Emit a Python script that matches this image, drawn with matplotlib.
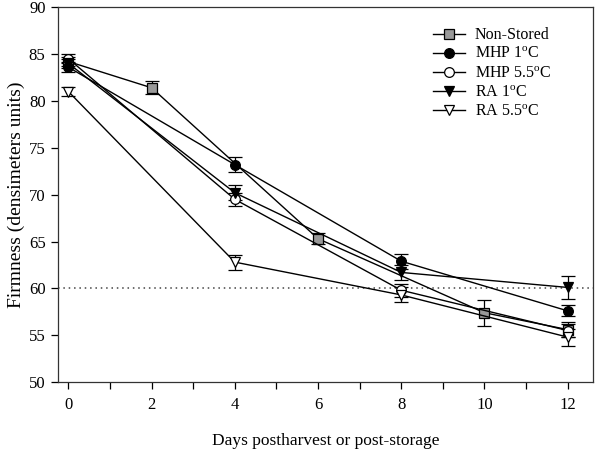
import numpy as np
import matplotlib
matplotlib.use("Agg")
import matplotlib.pyplot as plt
from matplotlib.ticker import MultipleLocator

plt.rcParams['font.family'] = ['Liberation Serif', 'DejaVu Serif']
plt.rcParams['mathtext.fontset'] = 'custom'
plt.rcParams['mathtext.rm'] = 'Liberation Serif'

# datos
dias_ns = [0, 2, 6, 10, 12]
non_stored = [84.2, 81.4, 65.3, 57.4, 55.6]
non_stored_err = [0.5, 0.7, 0.6, 1.4, 0.8]

dias = [0, 4, 8, 12]
mhp_1 = [83.6, 73.2, 62.9, 57.6]
mhp_1_err = [0.5, 0.8, 0.8, 0.6]
mhp_55 = [84.5, 69.5, 59.8, 55.5]
mhp_55_err = [0.5, 0.7, 0.7, 0.7]
ra_1 = [84.0, 70.2, 61.7, 60.1]
ra_1_err = [0.5, 0.8, 0.8, 1.2]
ra_55 = [81.0, 62.8, 59.3, 54.8]
ra_55_err = [0.5, 0.8, 0.8, 0.9]

umbral = 60

series = [
    (dias_ns, non_stored, non_stored_err, "s", "#999999", "Non-Stored"),
    (dias, mhp_1, mhp_1_err, "o", "black", r"MHP 1$^{\mathrm{o}}$C"),
    (dias, mhp_55, mhp_55_err, "o", "white", r"MHP 5.5$^{\mathrm{o}}$C"),
    (dias, ra_1, ra_1_err, "v", "black", r"RA 1$^{\mathrm{o}}$C"),
    (dias, ra_55, ra_55_err, "v", "white", r"RA 5.5$^{\mathrm{o}}$C"),
]

fig = plt.figure(figsize=(5.98, 4.49), dpi=100)
ax = fig.add_axes([0.097, 0.149, 0.894, 0.835])

ax.axhline(umbral, color="#444444", linestyle=(0, (1, 2.5)), linewidth=1.1, zorder=1)

for x, y, err, marker, color, label in series:
    ax.errorbar(x, y, yerr=err, marker=marker, markersize=7, markerfacecolor=color,
                markeredgecolor="black", markeredgewidth=0.9, color="black",
                linewidth=1.0, ecolor="black", elinewidth=0.9, capsize=5,
                capthick=0.9, label=label, zorder=3)

ax.set_xlim(-0.25, 12.6)
ax.set_ylim(50, 90)
ax.set_xticks(range(0, 13, 2))
ax.xaxis.set_minor_locator(MultipleLocator(1))
ax.set_yticks(range(50, 91, 5))
ax.tick_params(which="both", direction="out", length=5, width=0.9, top=False, right=False)
ax.tick_params(which="major", labelsize=12)
ax.tick_params(axis="x", which="major", pad=6)
ax.tick_params(axis="y", which="major", pad=4)
for s in ax.spines.values():
    s.set_linewidth(0.9)
    s.set_color("#333333")

ax.set_xlabel("Days postharvest or post-storage", fontsize=12.5, labelpad=14)
ax.set_ylabel("Firmness (densimeters units)", fontsize=14, labelpad=3)

handles, labels = ax.get_legend_handles_labels()
handles = [h[0] for h in handles]
leg = ax.legend(handles, labels, loc="upper right", bbox_to_anchor=(0.95, 0.985),
                frameon=False, fontsize=11.5, handlelength=2.0, labelspacing=0.2,
                handletextpad=0.6)

fig.savefig("out.png", dpi=100)
